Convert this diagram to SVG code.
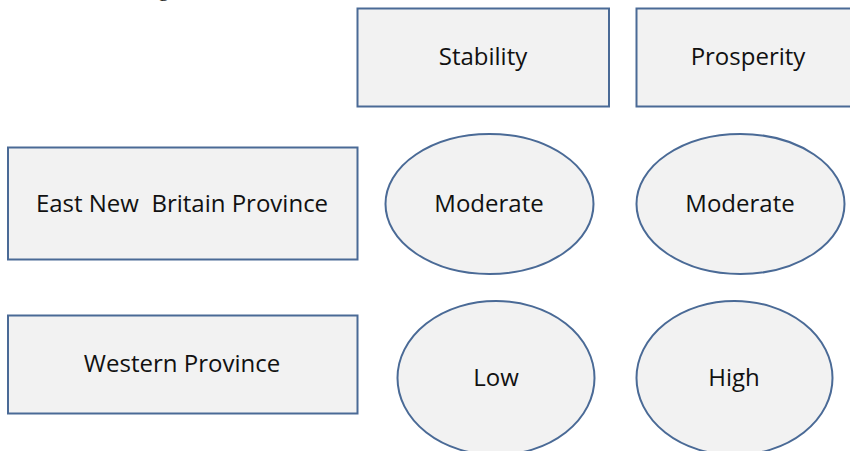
<svg xmlns="http://www.w3.org/2000/svg" width="850" height="451" viewBox="0 0 850 451">
<style>
.box{fill:#f2f2f2;stroke:#4a6a96;stroke-width:2}
.lbl{font-family:"Open Sans","Liberation Sans",sans-serif;font-size:24px;fill:#111;text-anchor:middle;white-space:pre}
.cap{font-family:"Liberation Serif",serif;font-size:22px;fill:#222}
</style>
<rect width="850" height="451" fill="#fff"/>
<text class="cap" x="158" y="-4">g</text>
<g id="stability"><rect class="box" x="357.5" y="8.5" width="251.5" height="98"/><text class="lbl" x="483" y="65">Stability</text></g>
<g id="prosperity"><rect class="box" x="636.5" y="8.5" width="223" height="98"/><text class="lbl" x="748" y="65">Prosperity</text></g>
<g id="east-new-britain"><rect class="box" x="8" y="147.5" width="349.5" height="112"/><text class="lbl" x="182" y="212" xml:space="preserve">East New  Britain Province</text></g>
<g id="western"><rect class="box" x="8" y="315.5" width="349.5" height="98"/><text class="lbl" x="182" y="372">Western Province</text></g>
<g id="enb-stability"><ellipse class="box" cx="489.5" cy="204" rx="104" ry="70"/><text class="lbl" x="489" y="212">Moderate</text></g>
<g id="enb-prosperity"><ellipse class="box" cx="740.5" cy="204" rx="104" ry="70"/><text class="lbl" x="740" y="212">Moderate</text></g>
<g id="w-stability"><ellipse class="box" cx="496" cy="378" rx="98.5" ry="77"/><text class="lbl" x="496" y="386">Low</text></g>
<g id="w-prosperity"><ellipse class="box" cx="734.5" cy="378" rx="98" ry="77"/><text class="lbl" x="734" y="386">High</text></g>
<g id="connectors"></g>
</svg>
